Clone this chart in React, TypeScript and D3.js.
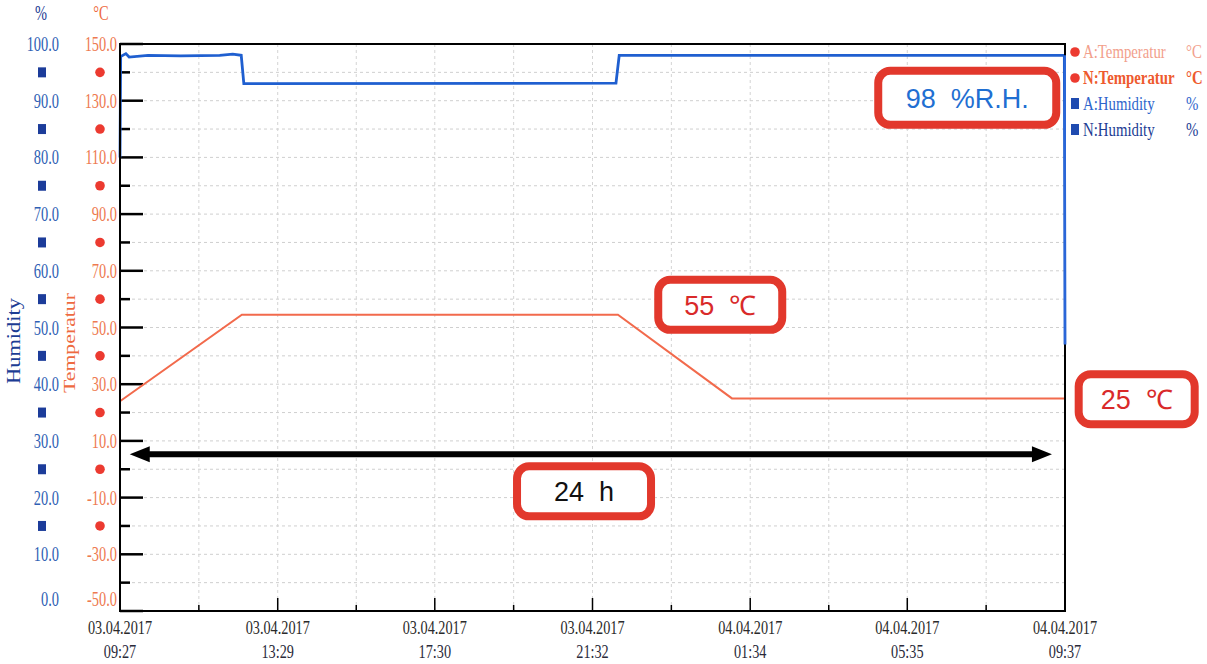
import { line, scaleLinear, scaleTime, timeParse } from 'd3'

// readings, estimated from the recorder print-out
const parseTime = timeParse('%d.%m.%Y %H:%M')

const timeDomain = ['03.04.2017 09:27', '04.04.2017 09:37']

const xTickLabels = [
  '03.04.2017 09:27',
  '03.04.2017 13:29',
  '03.04.2017 17:30',
  '03.04.2017 21:32',
  '04.04.2017 01:34',
  '04.04.2017 05:35',
  '04.04.2017 09:37',
]

const humidityTicks = [0, 10, 20, 30, 40, 50, 60, 70, 80, 90, 100]
const temperatureTicks = [-50, -30, -10, 10, 30, 50, 70, 90, 110, 130, 150]

const temperatureTimes = [
  '03.04.2017 09:27',
  '03.04.2017 12:34',
  '03.04.2017 22:11',
  '04.04.2017 01:06',
  '04.04.2017 09:37',
]
const temperatureValues = [24, 54.5, 54.5, 25, 25]

const humidityTimes = [
  '03.04.2017 09:27',
  '03.04.2017 09:28',
  '03.04.2017 09:36',
  '03.04.2017 09:41',
  '03.04.2017 10:10',
  '03.04.2017 11:00',
  '03.04.2017 12:00',
  '03.04.2017 12:20',
  '03.04.2017 12:33',
  '03.04.2017 12:37',
  '03.04.2017 22:08',
  '03.04.2017 22:13',
  '04.04.2017 09:36',
  '04.04.2017 09:37',
]
const humidityValues = [80, 97.8, 98.3, 97.7, 98, 97.9, 98, 98.2, 98, 93, 93.1, 98, 98, 47]

const calloutLabels = ['98 %R.H.', '55 ℃', '25 ℃', '24 h']
const calloutTimes = ['04.04.2017 07:07', '04.04.2017 00:48', '04.04.2017 11:27', '03.04.2017 21:19']
const calloutTemps = [131, 58, 24.7, -7.8]

const spanArrowTimes = ['03.04.2017 09:42', '04.04.2017 09:17']
const spanArrowTemp = 5.3

const legendItems = ['A:Temperatur', 'N:Temperatur', 'A:Humidity', 'N:Humidity']
const legendUnits = ['°C', '°C', '%', '%']

const width = 1207
const height = 664
const plot = { left: 120, right: 1065, top: 44, bottom: 611 }

const calloutStyles = [
  { w: 178, h: 54, color: '#1f6fd2' },
  { w: 124, h: 50, color: '#d92a2a' },
  { w: 116, h: 50, color: '#d92a2a' },
  { w: 134, h: 50, color: '#111111' },
]
const legendColors = ['#f2a08c', '#ee5a2e', '#2f66cc', '#1c3c94']

const serif = '"Liberation Serif", "DejaVu Serif", serif'
const sans = '"Liberation Sans", Arial, sans-serif'

// narrow, tall serif like the recorder software prints
function Condensed({
  x,
  y,
  anchor = 'end',
  size = 20,
  squeeze = 0.72,
  fill,
  bold = false,
  children,
}: {
  x: number
  y: number
  anchor?: 'start' | 'middle' | 'end'
  size?: number
  squeeze?: number
  fill: string
  bold?: boolean
  children: string
}) {
  return (
    <text
      transform={`translate(${x},${y}) scale(${squeeze},1)`}
      textAnchor={anchor}
      fontFamily={serif}
      fontSize={size}
      fontWeight={bold ? 'bold' : 'normal'}
      fill={fill}
    >
      {children}
    </text>
  )
}

function App() {
  const xScale = scaleTime()
    .domain(timeDomain.map((d) => parseTime(d) as Date))
    .range([plot.left, plot.right])

  const humScale = scaleLinear().domain([0, 100]).range([plot.bottom, plot.top])
  const tempScale = scaleLinear().domain([-50, 150]).range([plot.bottom, plot.top])

  const xTicks = xTickLabels.map((d) => parseTime(d) as Date)
  const xMinor = xTicks.slice(1).map((d, i) => new Date((d.getTime() + xTicks[i].getTime()) / 2))

  const humMinor = humidityTicks.slice(1).map((d) => d - 5)

  const tempPoints = temperatureTimes.map((t, i) => ({ t: parseTime(t) as Date, v: temperatureValues[i] }))
  const humPoints = humidityTimes.map((t, i) => ({ t: parseTime(t) as Date, v: humidityValues[i] }))

  const tempLine = line<{ t: Date; v: number }>()
    .x((d) => xScale(d.t))
    .y((d) => tempScale(d.v))
  const humLine = line<{ t: Date; v: number }>()
    .x((d) => xScale(d.t))
    .y((d) => humScale(d.v))

  const arrowY = tempScale(spanArrowTemp)
  const arrowX1 = xScale(parseTime(spanArrowTimes[0]) as Date)
  const arrowX2 = xScale(parseTime(spanArrowTimes[1]) as Date)

  const labelY = (y: number) => Math.min(y, plot.bottom - 12) + 7

  return (
    <svg width={width} height={height} style={{ display: 'block', background: '#fff' }}>
      <style>{'body{margin:0}'}</style>

      {/* grid */}
      {humidityTicks.concat(humMinor).map((tick) => (
        <line
          key={`hg-${tick}`}
          x1={plot.left}
          x2={plot.right}
          y1={humScale(tick)}
          y2={humScale(tick)}
          stroke="#cfcfcf"
          strokeDasharray="3,3"
        />
      ))}
      {xTicks.concat(xMinor).map((tick) => (
        <line
          key={`vg-${tick.getTime()}`}
          x1={xScale(tick)}
          x2={xScale(tick)}
          y1={plot.top}
          y2={plot.bottom}
          stroke="#d4d4d4"
          strokeDasharray="3,3"
        />
      ))}

      {/* left ticks, pointing into the plot */}
      {humidityTicks.map((tick) => (
        <line
          key={`ht-${tick}`}
          x1={plot.left}
          x2={plot.left + 23}
          y1={humScale(tick)}
          y2={humScale(tick)}
          stroke="#000"
          strokeWidth={2.5}
        />
      ))}
      {humMinor.map((tick) => (
        <line
          key={`hm-${tick}`}
          x1={plot.left}
          x2={plot.left + 10}
          y1={humScale(tick)}
          y2={humScale(tick)}
          stroke="#000"
          strokeWidth={2.5}
        />
      ))}

      {/* bottom ticks */}
      {xTicks.map((tick) => (
        <line
          key={`xt-${tick.getTime()}`}
          x1={xScale(tick)}
          x2={xScale(tick)}
          y1={plot.bottom}
          y2={plot.bottom - 13}
          stroke="#000"
          strokeWidth={1.5}
        />
      ))}
      {xMinor.map((tick) => (
        <line
          key={`xm-${tick.getTime()}`}
          x1={xScale(tick)}
          x2={xScale(tick)}
          y1={plot.bottom}
          y2={plot.bottom - 6}
          stroke="#000"
          strokeWidth={1.5}
        />
      ))}

      {/* series */}
      <path d={tempLine(tempPoints) ?? ''} fill="none" stroke="#f26a4c" strokeWidth={2} />
      <path d={humLine(humPoints) ?? ''} fill="none" stroke="#1f5fd0" strokeWidth={2.8} />

      {/* frame */}
      <rect
        x={plot.left}
        y={plot.top}
        width={plot.right - plot.left}
        height={plot.bottom - plot.top}
        fill="none"
        stroke="#000"
        strokeWidth={2}
      />
      <line
        x1={plot.right}
        x2={plot.right}
        y1={humScale(humidityValues[humidityValues.length - 2])}
        y2={humScale(humidityValues[humidityValues.length - 1])}
        stroke="#2a66d8"
        strokeWidth={2}
      />

      {/* y labels */}
      {humidityTicks.map((tick) => (
        <Condensed key={`hl-${tick}`} x={59} y={labelY(humScale(tick))} fill="#2f5fb4">
          {tick.toFixed(1)}
        </Condensed>
      ))}
      {temperatureTicks.map((tick) => (
        <Condensed key={`tl-${tick}`} x={117} y={labelY(tempScale(tick))} fill="#ee7a50">
          {tick.toFixed(1)}
        </Condensed>
      ))}
      {humMinor.slice(1).map((tick) => (
        <rect key={`hs-${tick}`} x={38} y={humScale(tick) - 5} width={8} height={10} fill="#1c3c9a" />
      ))}
      {humMinor.slice(1).map((tick) => (
        <circle key={`td-${tick}`} cx={100} cy={humScale(tick)} r={4.8} fill="#ec3a30" />
      ))}

      {/* axis titles */}
      <Condensed x={41} y={20} anchor="middle" fill="#1c3c94">
        %
      </Condensed>
      <Condensed x={101} y={20} anchor="middle" fill="#ee6a40">
        °C
      </Condensed>
      <text
        transform="translate(20, 341) rotate(-90)"
        textAnchor="middle"
        fontFamily={serif}
        fontSize={18}
        textLength={86}
        lengthAdjust="spacingAndGlyphs"
        fill="#1c3c94"
      >
        Humidity
      </text>
      <text
        transform="translate(75, 343) rotate(-90)"
        textAnchor="middle"
        fontFamily={serif}
        fontSize={17}
        textLength={100}
        lengthAdjust="spacingAndGlyphs"
        fill="#ee6a40"
      >
        Temperatur
      </text>

      {/* x labels */}
      {xTicks.map((tick, i) => {
        const [date, time] = xTickLabels[i].split(' ')
        return (
          <g key={`xl-${tick.getTime()}`}>
            <Condensed x={xScale(tick)} y={634} anchor="middle" size={19} squeeze={0.75} fill="#2a2a2a">
              {date}
            </Condensed>
            <Condensed x={xScale(tick)} y={658} anchor="middle" size={19} squeeze={0.75} fill="#2a2a3a">
              {time}
            </Condensed>
          </g>
        )
      })}

      {/* legend */}
      {legendItems.map((item, i) => {
        const y = 58 + i * 26
        return (
          <g key={item}>
            {i < 2 ? (
              <circle cx={1075} cy={y - 6} r={4.8} fill="#ec3a30" />
            ) : (
              <rect x={1071} y={y - 12} width={8} height={11} fill="#1f4bb0" />
            )}
            <Condensed x={1083} y={y} anchor="start" size={19} squeeze={0.78} bold={i === 1} fill={legendColors[i]}>
              {item}
            </Condensed>
            <Condensed x={1186} y={y} anchor="start" size={19} squeeze={0.78} bold={i === 1} fill={legendColors[i]}>
              {legendUnits[i]}
            </Condensed>
          </g>
        )
      })}

      {/* 24 h span arrow */}
      <line x1={arrowX1 + 16} x2={arrowX2 - 16} y1={arrowY} y2={arrowY} stroke="#000" strokeWidth={6} />
      <path
        d={`M${arrowX1},${arrowY} L${arrowX1 + 20},${arrowY - 8} L${arrowX1 + 20},${arrowY + 8} Z`}
        fill="#000"
      />
      <path
        d={`M${arrowX2},${arrowY} L${arrowX2 - 20},${arrowY - 8} L${arrowX2 - 20},${arrowY + 8} Z`}
        fill="#000"
      />

      {/* callouts */}
      {calloutLabels.map((label, i) => {
        const cx = xScale(parseTime(calloutTimes[i]) as Date)
        const cy = tempScale(calloutTemps[i])
        const { w, h, color } = calloutStyles[i]
        return (
          <g key={label}>
            <rect
              x={cx - w / 2}
              y={cy - h / 2}
              width={w}
              height={h}
              rx={12}
              fill="#fff"
              stroke="#e2382c"
              strokeWidth={8}
            />
            <text
              x={cx}
              y={cy}
              dy="0.36em"
              textAnchor="middle"
              fontFamily={sans}
              fontSize={27}
              fill={color}
              style={{ whiteSpace: 'pre' }}
            >
              {label.replace(' ', '  ')}
            </text>
          </g>
        )
      })}
    </svg>
  )
}

export default App
